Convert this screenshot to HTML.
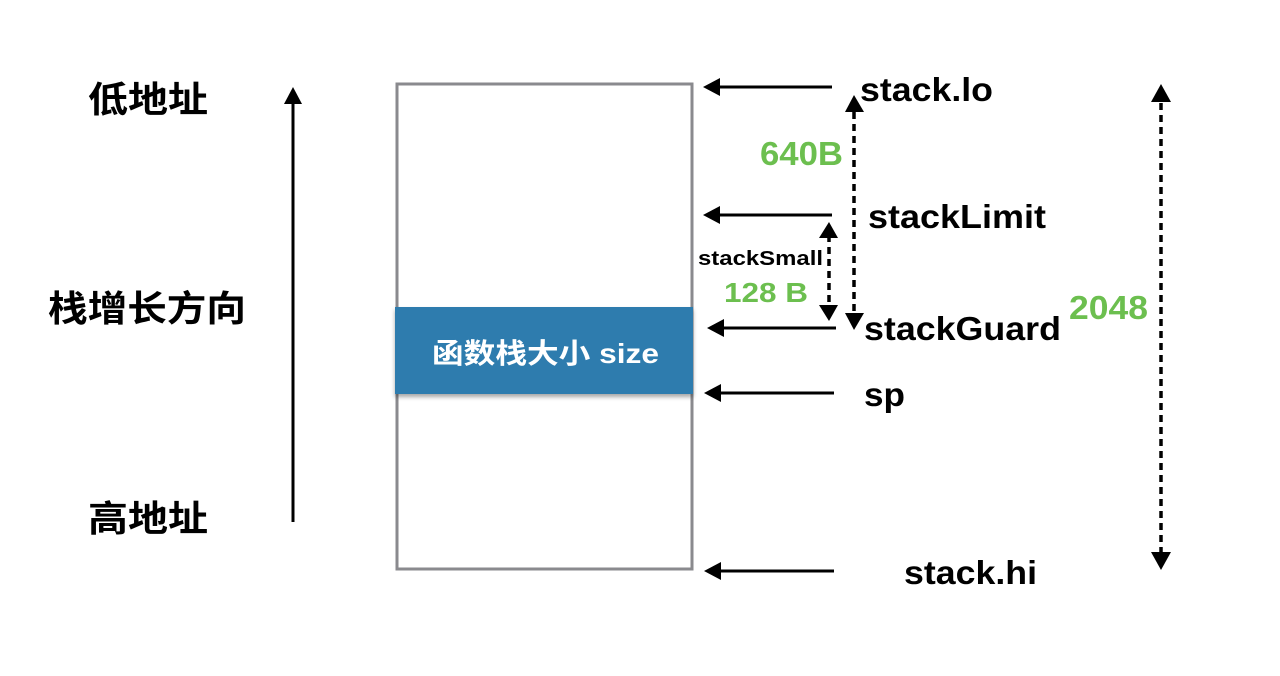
<!DOCTYPE html>
<html><head><meta charset="utf-8"><style>
html,body{margin:0;padding:0;background:#fff;width:1280px;height:676px;overflow:hidden}
text{font-family:"Liberation Sans","Noto Sans CJK SC",sans-serif;font-weight:bold}
</style></head><body>
<svg width="1280" height="676" viewBox="0 0 1280 676" xmlns="http://www.w3.org/2000/svg">
<defs>
<filter id="sh" x="-5%" y="-10%" width="110%" height="130%"><feDropShadow dx="0" dy="3" stdDeviation="2" flood-color="#000" flood-opacity="0.35"/></filter>
</defs>
<text x="88" y="112" font-size="36" textLength="120" lengthAdjust="spacingAndGlyphs">低地址</text>
<text x="48" y="321" font-size="36" textLength="198" lengthAdjust="spacingAndGlyphs">栈增长方向</text>
<text x="88" y="531" font-size="36" textLength="120" lengthAdjust="spacingAndGlyphs">高地址</text>
<line x1="293" y1="522" x2="293" y2="100" stroke="#000" stroke-width="3"/>
<path d="M284,104 L293,87 L302,104 Z" fill="#000"/>
<rect x="397" y="84" width="295" height="485" fill="#fff" stroke="#8a8a8e" stroke-width="3"/>
<rect x="395" y="307" width="298" height="87" fill="#2f7cae" filter="url(#sh)"/>
<text x="432" y="363" font-size="28" fill="#fff" textLength="227" lengthAdjust="spacingAndGlyphs">函数栈大小 size</text>
<g stroke="#000" stroke-width="3">
<line x1="832" y1="87" x2="718" y2="87"/>
<line x1="832" y1="215" x2="718" y2="215"/>
<line x1="836" y1="328" x2="722" y2="328"/>
<line x1="834" y1="393" x2="720" y2="393"/>
<line x1="834" y1="571" x2="720" y2="571"/>
</g>
<g fill="#000">
<path d="M703,87 L720,78 L720,96 Z"/>
<path d="M703,215 L720,206 L720,224 Z"/>
<path d="M707,328 L724,319 L724,337 Z"/>
<path d="M704,393 L721,384 L721,402 Z"/>
<path d="M704,571 L721,562 L721,580 Z"/>
</g>
<g stroke="#000" stroke-width="3.5" stroke-dasharray="7,5" fill="none">
<line x1="854" y1="112" x2="854" y2="316"/>
<line x1="829" y1="235" x2="829" y2="305"/>
<line x1="1161" y1="103" x2="1161" y2="552"/>
</g>
<g fill="#000">
<path d="M845,112 L854,95 L864,112 Z"/>
<path d="M845,313 L854,330 L864,313 Z"/>
<path d="M819,238 L829,222 L838,238 Z"/>
<path d="M819,305 L829,321 L838,305 Z"/>
<path d="M1151,102 L1161,84 L1171,102 Z"/>
<path d="M1151,552 L1161,570 L1171,552 Z"/>
</g>
<text x="860" y="101" font-size="33" textLength="133" lengthAdjust="spacingAndGlyphs">stack.lo</text>
<text x="868" y="228" font-size="33" textLength="178" lengthAdjust="spacingAndGlyphs">stackLimit</text>
<text x="864" y="340" font-size="33" textLength="197" lengthAdjust="spacingAndGlyphs">stackGuard</text>
<text x="864" y="406" font-size="33" textLength="41" lengthAdjust="spacingAndGlyphs">sp</text>
<text x="904" y="584" font-size="33" textLength="133" lengthAdjust="spacingAndGlyphs">stack.hi</text>
<text x="760" y="165" font-size="33" fill="#6cbf4f" textLength="83" lengthAdjust="spacingAndGlyphs">640B</text>
<text x="698" y="265" font-size="20" textLength="125" lengthAdjust="spacingAndGlyphs">stackSmall</text>
<text x="724" y="302" font-size="28" fill="#6cbf4f" textLength="84" lengthAdjust="spacingAndGlyphs">128 B</text>
<text x="1069" y="319" font-size="33" fill="#6cbf4f" textLength="79" lengthAdjust="spacingAndGlyphs">2048</text>
</svg>
</body></html>
